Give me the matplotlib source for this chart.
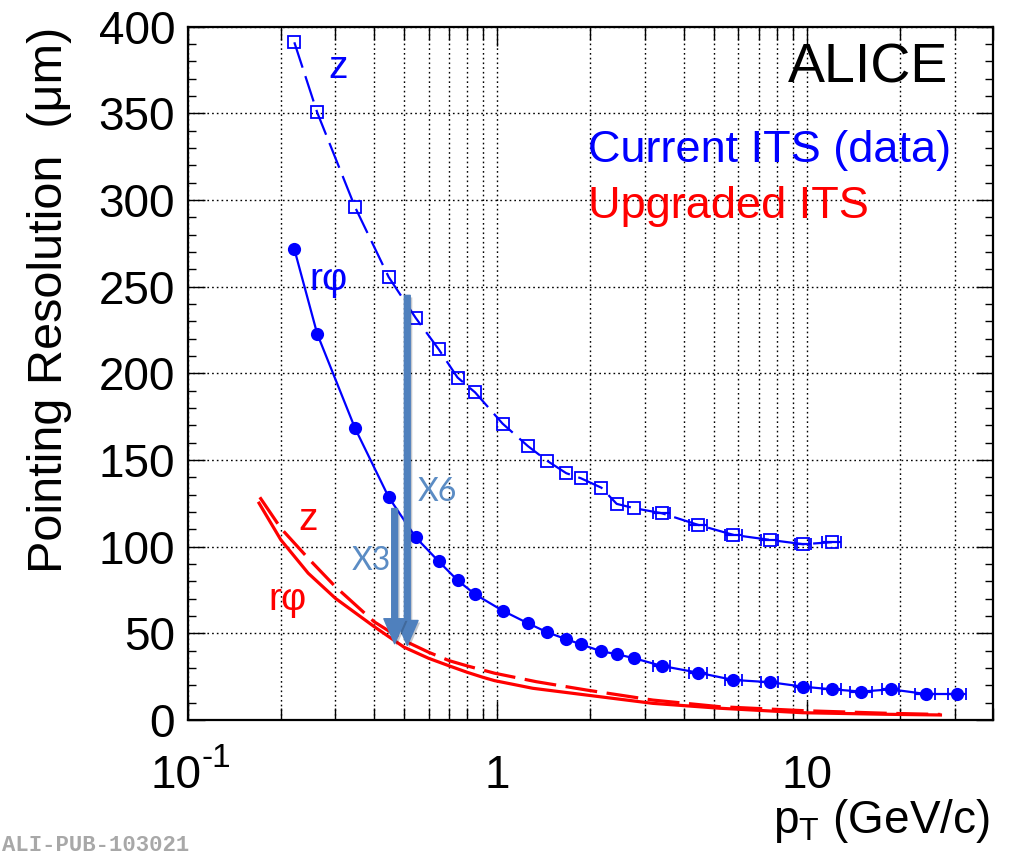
import matplotlib
matplotlib.use('Agg')
import matplotlib.pyplot as plt
import matplotlib.transforms as mtransforms
import matplotlib.patheffects as pe
from matplotlib.ticker import LogLocator, MultipleLocator, NullFormatter

plt.rcParams['font.family'] = ['Liberation Sans', 'DejaVu Sans']
plt.rcParams['mathtext.fontset'] = 'custom'
plt.rcParams['mathtext.rm'] = 'Liberation Sans'
plt.rcParams['mathtext.it'] = 'Liberation Sans'

# current ITS (data): pT bins shared by both projections
pt_bins = [0.221, 0.262, 0.347, 0.446, 0.545, 0.646, 0.744, 0.848, 1.04, 1.256,
           1.45, 1.67, 1.86, 2.17, 2.43, 2.77, 3.40, 4.45, 5.79, 7.61, 9.74,
           12.05, 15.0, 18.7, 24.2, 30.6]
res_z = [391, 350.5, 296, 255.5, 232, 214, 197.6, 189, 171, 158,
         149.5, 142.4, 139.5, 134, 124.7, 122.2, 119.3, 112.6, 106.8, 103.9, 101.4,
         102.6]
res_rphi = [271.7, 222.8, 168.4, 128.5, 105.4, 91.6, 80.6, 72.5, 63.1, 55.8,
            50.6, 46.6, 43.7, 39.6, 38.0, 35.6, 31.2, 27.3, 23.1, 21.8, 19.2,
            17.7, 16.4, 17.7, 15.0, 15.0]
# bin half widths for the high-pT points (from 3.4 GeV/c on)
xerr_hi = [0.22, 0.3, 0.37, 0.48, 0.6, 0.85, 1.2, 1.2, 1.8, 2.1]
first_hi = 16

# upgraded ITS
pt_up_rphi = [0.170, 0.2, 0.245, 0.3, 0.4, 0.5, 0.6, 0.7, 0.8, 0.9, 0.98,
              1.302, 1.94, 3.18, 5.21, 9.68, 18.0, 27.0]
res_up_rphi = [125.1, 103.9, 84.7, 70.2, 53.9, 42.0, 35.6, 31.2, 27.5, 24.6, 22.7,
               18.3, 14.4, 9.6, 6.8, 4.2, 3.3, 2.9]
pt_up_z = [0.171, 0.2, 0.245, 0.3, 0.4, 0.5, 0.6, 0.7, 0.8, 0.98,
           1.336, 1.94, 3.18, 5.21, 9.68, 18.0, 27.0]
res_up_z = [128.5, 110.6, 93.3, 76.9, 56.7, 45.8, 39.1, 34.2, 31.2, 27.0,
            22.1, 17.3, 11.5, 7.7, 5.4, 3.9, 3.2]

# improvement arrows: (pT, from, to, label)
arrows = [(0.512, 245, 43, 'X6'), (0.466, 122, 44, 'X3')]
arrow_label_pos = [(0.553, 126.6), (0.338, 86.6)]

x_ticks = [0.1, 1, 10]
x_tick_mant = ['10', '1', '10']
x_tick_exp = ['-1', '', '']

fig = plt.figure(figsize=(10.10, 8.57), dpi=100)
ax = fig.add_axes([187.7 / 1010, 137 / 857, 805.6 / 1010, 693.3 / 857])
ax.set_xscale('log')
ax.set_xlim(0.1, 40)
ax.set_ylim(0, 400)

ax.xaxis.set_major_locator(LogLocator(base=10, numticks=10))
ax.xaxis.set_minor_locator(LogLocator(base=10, subs=range(2, 10), numticks=20))
ax.xaxis.set_major_formatter(NullFormatter())
ax.xaxis.set_minor_formatter(NullFormatter())
ax.yaxis.set_major_locator(MultipleLocator(50))
ax.yaxis.set_minor_locator(MultipleLocator(10))

ax.tick_params(which='both', direction='in', top=True, right=True, width=1.0, color='black')
ax.tick_params(axis='x', which='major', length=14)
ax.tick_params(axis='x', which='minor', length=9)
ax.tick_params(axis='y', which='major', length=12, labelsize=33, pad=9)
ax.tick_params(axis='y', which='minor', length=6)
for s in ax.spines.values():
    s.set_linewidth(1.6)

ax.set_axisbelow(True)
grid_style = dict(color='black', linestyle=(0, (1.2, 2.2)), linewidth=1.0)
ax.grid(True, which='both', axis='x', **grid_style)
ax.grid(True, which='major', axis='y', **grid_style)

# upgraded ITS curves
ax.plot(pt_up_rphi, res_up_rphi, color='#ff0000', lw=2.3, zorder=3)
ax.plot(pt_up_z, res_up_z, color='#ff0000', lw=2.3, dashes=(10, 3), zorder=3)

# current ITS data
ax.plot(pt_bins[:len(res_z)], res_z, color='#0000ff', lw=1.6, dashes=(12, 4),
        marker='s', ms=8, mfc='none', mew=1.3, zorder=4)
ax.plot(pt_bins, res_rphi, color='#0000ff', lw=1.6,
        marker='o', ms=9.5, mew=0, zorder=4)
ax.errorbar(pt_bins[first_hi:len(res_z)], res_z[first_hi:],
            xerr=xerr_hi[:len(res_z) - first_hi], fmt='none',
            ecolor='#0000ff', elinewidth=1.6, capsize=4, capthick=1.3, zorder=4)
ax.errorbar(pt_bins[first_hi:], res_rphi[first_hi:], xerr=xerr_hi, fmt='none',
            ecolor='#0000ff', elinewidth=1.6, capsize=4, capthick=1.3, zorder=4)

# arrows
for (xa, y0, y1, lab), (xl, yl) in zip(arrows, arrow_label_pos):
    ax.annotate('', xy=(xa, y1), xytext=(xa, y0),
                arrowprops=dict(arrowstyle='simple,head_length=1.8,head_width=1.55,tail_width=0.42',
                                mutation_scale=10, color='#4f80bd', shrinkA=0, shrinkB=0,
                                path_effects=[pe.SimplePatchShadow(offset=(1.5, -1.5), alpha=0.25),
                                              pe.Normal()]),
                zorder=6)
    ax.text(xl, yl, lab, color='#5b8cc4', fontsize=23, family=['Lato', 'DejaVu Sans'],
            ha='left', va='baseline', zorder=7)

# curve labels
ax.text(0.284, 370.6, 'z', color='#0000ff', fontsize=28, va='baseline')
ax.text(0.248, 248.0, 'rφ', color='#0000ff', fontsize=28, va='baseline')
ax.text(0.2275, 109.7, 'z', color='#ff0000', fontsize=28, va='baseline')
ax.text(0.182, 63.5, 'rφ', color='#ff0000', fontsize=28, va='baseline')

ax.text(0.944, 0.919, 'ALICE', transform=ax.transAxes, fontsize=40,
        ha='right', va='baseline')
ax.text(0.497, 0.805, 'Current ITS (data)', transform=ax.transAxes, fontsize=32.5,
        color='#0000ff', ha='left', va='baseline')
ax.text(0.497, 0.724, 'Upgraded ITS', transform=ax.transAxes, fontsize=32.5,
        color='#ff0000', ha='left', va='baseline')

# x tick labels, baseline aligned, exponent as a raised smaller text
trans = mtransforms.blended_transform_factory(ax.transData, ax.transAxes)
for xv, mant, ex in zip(x_ticks, x_tick_mant, x_tick_exp):
    if ex:
        t_m = mtransforms.offset_copy(trans, fig=fig, x=14, y=0, units='dots')
        t_e = mtransforms.offset_copy(trans, fig=fig, x=14, y=21, units='dots')
        ax.text(xv, -0.098, mant, transform=t_m, fontsize=33, ha='right', va='baseline')
        ax.text(xv, -0.098, ex, transform=t_e, fontsize=24, ha='left', va='baseline')
    else:
        ax.text(xv, -0.098, mant, transform=trans, fontsize=33, ha='center', va='baseline')

ax.set_xlabel(r'$\mathregular{p_{T}}$ (GeV/c)', fontsize=33, ha='right', va='baseline')
ax.xaxis.set_label_coords(0.996, -0.163)
ax.set_ylabel('Pointing Resolution  (μm)', fontsize=35, ha='center', va='center')
ax.yaxis.set_label_coords(-0.171, 0.606)

fig.text(0.002, 0.001, 'ALI-PUB-103021', fontsize=16, color='#a8a8a8',
         family=['Liberation Mono', 'DejaVu Sans Mono'], weight='bold',
         ha='left', va='bottom')

fig.savefig('out.png', dpi=100)
